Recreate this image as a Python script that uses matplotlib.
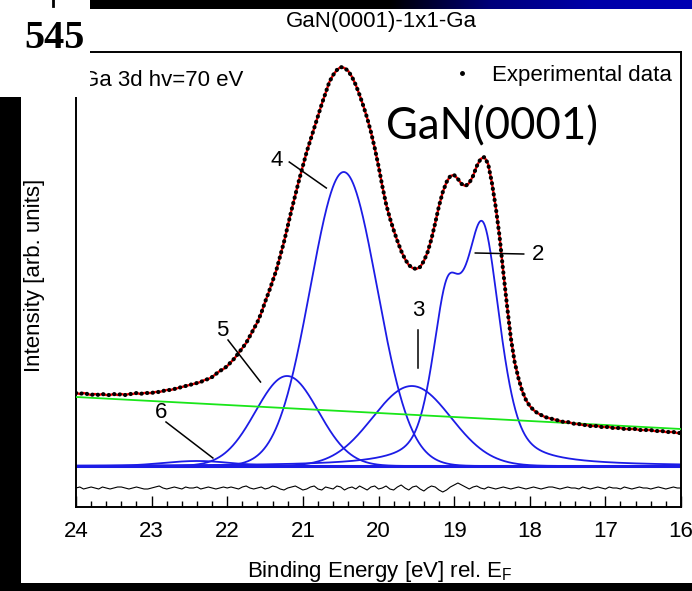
import numpy as np
import matplotlib
matplotlib.use("Agg")
import matplotlib.pyplot as plt
from matplotlib.patches import Rectangle
from matplotlib.lines import Line2D
from matplotlib.colors import LinearSegmentedColormap

# ---------------- data ----------------
energy_start, energy_stop, energy_step = 24.0, 16.0, 0.05

# experimental Ga 3d spectrum (arb. units), from 24.00 eV down to 16.00 eV, 0.05 eV step
experimental = [
    73, 72, 73, 72, 71, 72, 71, 72, 71, 71,
    72, 71, 72, 71, 72, 72, 73, 72, 73, 73,
    73, 74, 74, 75, 76, 76, 77, 78, 79, 80,
    81, 82, 83, 84, 86, 87, 89, 92, 95, 97,
    100, 104, 108, 113, 118, 123, 130, 137, 144, 153,
    164, 174, 185, 196, 210, 224, 240, 256, 271, 286,
    300, 314, 326, 338, 350, 362, 373, 384, 391, 396,
    399, 398, 395, 389, 381, 371, 360, 348, 334, 318,
    300, 280, 262, 248, 236, 225, 215, 207, 201, 198,
    197, 199, 205, 214, 227, 243, 260, 274, 284, 290,
    291, 287, 282, 280, 283, 290, 300, 307, 309, 302,
    283, 259, 230, 194, 160, 128, 104, 88, 75, 66,
    60, 56, 53, 51, 49, 48, 47, 46, 45, 44,
    44, 43, 42, 42, 41, 41, 40, 40, 40, 39,
    39, 39, 38, 38, 38, 37, 37, 37, 37, 36,
    36, 36, 36, 35, 35, 35, 34, 34, 34, 33,
    33,
]

# fit residual (same energies)
residual = [
    0, 1, -1, 0, 1, 0, -1, 1, 0, -1, 0, 1, 1, 0, -1, 0, 1, 0, -1, -1,
    0, 1, 2, 0, -1, 0, 1, 0, -1, 1, 0, 0, 1, -1, 0, 1, 0, -1, 0, 1, 0,
    1, 0, -1, 1, 2, 0, -1, 0, 1, -1, 0, 2, 1, -1, -2, 0, 1, 2, 0, -2,
    -1, 1, 2, -1, -2, 1, 0, -1, 2, 1, -2, 0, 1, -1, 2, 0, -2, 1, 2, -1,
    0, 2, -1, -2, 1, 3, 0, -2, 1, 2, -1, -3, 0, 2, 1, -2, -4, -2, 1, 3,
    5, 3, 1, -1, 1, 2, 0, -1, 1, 0, -1, 0, 1, 0, -1, 0, 1, 0, -1, 0,
    1, 0, -1, 0, 1, 1, 0, -1, 0, 1, 0, 0, -1, 1, 0, -1, 0, 1, 0, -1,
    1, 0, 0, -1, 1, 0, -1, 0, 1, 0, 0, -1, 0, 1, 0, -1, 0, 1, 0, 0,
]

# linear background (green line) end points
background_energy = [24.0, 16.0]
background_value = [69, 37]

# fitted components (blue); component "2" is a resolved spin-orbit doublet
sub_label = ["2", "2", "3", "4", "5", "6"]
sub_center = [18.62, 19.10, 19.56, 20.46, 21.21, 22.40]
sub_height = [227, 147, 80, 294, 90, 5]
sub_hwhm = [0.27, 0.23, 0.61, 0.52, 0.49, 0.53]
sub_lorentz = [0.5, 0.5, 0.0, 0.0, 0.0, 0.0]

# ---------------- figure ----------------
plt.rcParams["font.family"] = ["Liberation Sans", "DejaVu Sans"]
plt.rcParams["mathtext.fontset"] = "custom"
plt.rcParams["mathtext.rm"] = "Liberation Sans"

W, H = 692, 591
fig = plt.figure(figsize=(W / 100, H / 100), dpi=100)
fig.patch.set_facecolor("white")


def fx(px):
    return px / W


def fy(py):
    return 1 - py / H


ax_left, ax_right, ax_top, ax_bottom = 76, 681, 52, 507
ax = fig.add_axes([fx(ax_left), fy(ax_bottom), (ax_right - ax_left) / W, (ax_bottom - ax_top) / H])

energy = np.round(np.arange(energy_start, energy_stop - 1e-9, -energy_step), 2)
assert len(energy) == len(experimental) == len(residual)
exp_arr = np.array(experimental, dtype=float)
res_arr = np.array(residual, dtype=float)

fine = np.linspace(energy_start, energy_stop, 1601)


def pseudo_voigt(x, c, h, w, eta):
    u = (x - c) / w
    return h * (eta / (1 + u * u) + (1 - eta) * np.exp(-np.log(2) * u * u))


# components
blue = "#1c1ce6"
for lab in ["6", "5", "4", "3", "2"]:
    curve = np.zeros_like(fine)
    for l, c, h, w, eta in zip(sub_label, sub_center, sub_height, sub_hwhm, sub_lorentz):
        if l == lab:
            curve += pseudo_voigt(fine, c, h, w, eta)
    ax.plot(fine, curve, color=blue, lw=1.3, zorder=2)
ax.plot([energy_start, energy_stop], [0, 0], color=blue, lw=2.2, zorder=2)

# background
ax.plot(background_energy, background_value, color="#19e619", lw=1.3, zorder=3)

# fit + experimental data
ax.plot(energy, exp_arr, color="#ff0000", lw=1.7, zorder=4)
ax.plot(energy, exp_arr, color="black", lw=3.0, linestyle=(0, (0.05, 1.3)),
        dash_capstyle="round", zorder=5)

# residual
residual_offset = -22
ax.plot(energy, residual_offset + res_arr, color="black", lw=0.8, zorder=3)

# peak labels and leader lines
callout_text = ["4", "2", "3", "5", "6"]
callout_text_xy = [(21.35, 306), (17.89, 211), (19.47, 156), (22.07, 135), (22.87, 54)]
callout_line = [((21.18, 304), (20.69, 278)), ((18.72, 213), (18.08, 212)),
                ((19.48, 136), (19.48, 98)), ((21.99, 126), (21.56, 84)),
                ((22.81, 44), (22.19, 8))]
for t, (tx, ty), ((x0, y0), (x1, y1)) in zip(callout_text, callout_text_xy, callout_line):
    ax.text(tx, ty, t, fontsize=16, ha="center", va="center", zorder=6)
    ax.plot([x0, x1], [y0, y1], color="black", lw=1.1, zorder=6)

# legend
handle = Line2D([], [], color="black", marker="o", markersize=2.5, linestyle="none")
leg = ax.legend([handle], ["Experimental data"], loc="center left",
                bbox_to_anchor=((451 - ax_left) / (ax_right - ax_left), (ax_bottom - 75) / (ax_bottom - ax_top)),
                frameon=False, fontsize=16, borderpad=0, borderaxespad=0,
                handlelength=1.0, handletextpad=0.86)

ax.set_xlim(24, 16)
ax.set_ylim(-41, 414)
ax.set_xticks(np.arange(24, 15.5, -1))
ax.set_xticklabels([str(v) for v in range(24, 15, -1)])
ax.set_xticks(np.arange(24, 15.9, -0.2), minor=True)
ax.set_yticks([])
ax.tick_params(axis="x", which="major", direction="in", length=8, width=1.0, labelsize=16, pad=10)
ax.tick_params(axis="x", which="minor", direction="in", length=4, width=1.0)
for sp in ax.spines.values():
    sp.set_linewidth(1.4)

ax.set_xlabel(r"Binding Energy [eV] rel. E$_\mathregular{F}$", fontsize=16)
ax.xaxis.set_label_coords(0.503, -0.114)
ax.set_ylabel("Intensity [arb. units]", fontsize=16)
ax.yaxis.set_label_coords(-0.052, 0.508)

# texts from the figure / slide
fig.text(fx(82), fy(80), "Ga 3d hv=70 eV", fontsize=16, ha="left", va="center", zorder=3)
fig.text(fx(381), fy(21), "GaN(0001)-1x1-Ga", fontsize=16, ha="center", va="center", zorder=3)
fig.text(fx(492), fy(127), "GaN(0001)", fontsize=31.5, ha="center", va="center",
         family=["Lato", "DejaVu Sans"], zorder=7)

# slide decorations
fig.add_artist(Rectangle((0, fy(97)), fx(90), 97 / H, transform=fig.transFigure,
                         facecolor="white", edgecolor="none", zorder=5))
fig.add_artist(Rectangle((0, fy(591)), fx(21), (591 - 97) / H, transform=fig.transFigure,
                         facecolor="black", edgecolor="none", zorder=6))
fig.add_artist(Rectangle((0, 0), 1, (591 - 583) / H, transform=fig.transFigure,
                         facecolor="black", edgecolor="none", zorder=6))
fig.add_artist(Rectangle((fx(90), fy(9)), fx(300), 9 / H, transform=fig.transFigure,
                         facecolor="black", edgecolor="none", zorder=6))
gax = fig.add_axes([fx(390), fy(9), fx(302), 9 / H])
gcmap = LinearSegmentedColormap.from_list("bar", ["#000000", "#00007a", "#0000a8", "#0000b4"])
gax.imshow(np.linspace(0, 1, 256)[None, :], aspect="auto", cmap=gcmap, extent=[0, 1, 0, 1])
gax.set_axis_off()
fig.add_artist(Line2D([fx(53), fx(53)], [1, fy(6)], transform=fig.transFigure,
                      color="black", lw=2, zorder=7))
fig.text(fx(54), fy(39), "545", fontsize=29, fontweight="bold", ha="center", va="center",
         family=["Liberation Serif", "DejaVu Serif"], zorder=7)

fig.savefig("out.png", dpi=100, facecolor="white")
